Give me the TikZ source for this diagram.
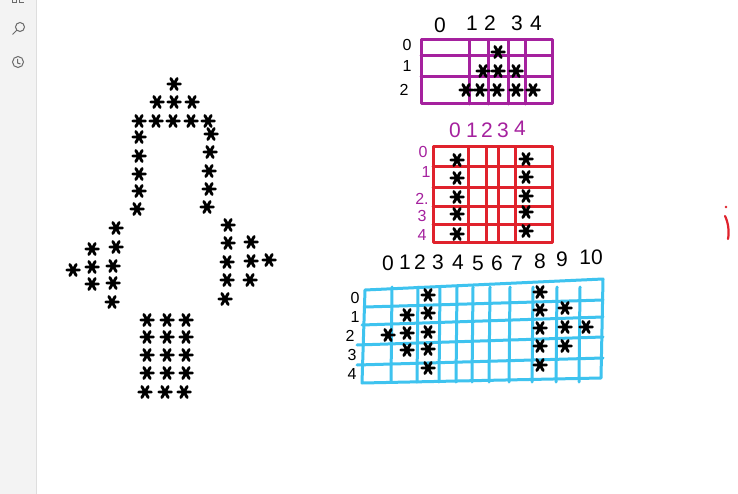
\documentclass[tikz,border=0pt]{standalone}
\usepackage{fontspec}
\setmainfont{Liberation Sans}
\definecolor{sidebar}{HTML}{F3F3F3}
\definecolor{sideline}{HTML}{DEDEDE}
\definecolor{iconc}{HTML}{6A6A6A}
\definecolor{pgrid}{HTML}{A5219E}
\definecolor{rgrid}{HTML}{E0222C}
\definecolor{bgrid}{HTML}{3EC3EF}
\tikzset{
  ast/.pic={\draw[line width=2.9pt,line cap=round,black] (-6.3,0)--(6.3,0) (-3.2,-5.5)--(3.2,5.5) (3.2,-5.5)--(-3.2,5.5);},
  gline/.style={line width=3pt,line cap=round,line join=round},
  lab/.style={font=\fontsize{21}{21}\selectfont,inner sep=0pt},
  rlab/.style={font=\fontsize{16}{16}\selectfont,inner sep=0pt},
}
\begin{document}
\begin{tikzpicture}[x=1pt,y=-1pt]
\useasboundingbox (0,0) rectangle (738,494);
\fill[white] (0,0) rectangle (738,494);
% sidebar
\fill[sidebar] (0,0) rectangle (36,494);
\draw[sideline,line width=1pt] (36,0) -- (36,494);
\draw[iconc,line width=1pt] (12,0) -- (12,2.5) -- (16,2.5) -- (16,0) (19,0) -- (19,2.5) -- (24,2.5);
\draw[iconc,line width=1pt] (20,27) circle (4.5) (16.8,30.2) -- (12.5,34.5);
\draw[iconc,line width=1pt] (18,62) circle (5.5) (17.5,59) -- (17.5,63) -- (20.5,64);
% left figure (arrow/rocket of asterisks)
\foreach \p in {(174,84),(157,102),(174,102),(192,102),
  (139,121),(156,121),(173,121),(191,121),(208,121),
  (139,137),(139,156),(139,174),(139,191),(137,209),
  (211,134),(210,152),(209,171),(209,189),(207,207),
  (116,228),(92,249),(116,247),(73,270),(92,267),(113,266),(92,284),(113,283),(112,302),
  (228,225),(228,243),(251,242),(227,262),(251,261),(269,260),(227,280),(250,280),(225,299),
  (147,320),(167,320),(186,320),(147,337),(167,337),(186,337),
  (147,355),(167,355),(186,355),(147,373),(167,373),(186,373),
  (145,392),(165,392),(184,392)}
  \pic at \p {ast};
% purple grid
\draw[pgrid,gline] (421,40) rectangle (552,104);
\draw[pgrid,gline] (421,56) -- (552,56) (421,77) -- (552,77);
\foreach \x in {469,488,508,525} \draw[pgrid,gline] (\x,40) -- (\x,104);
\node[lab] (pc0) at (440,25) {0};
\node[lab] (pc1) at (472,23) {1};
\node[lab] (pc2) at (490,23) {2};
\node[lab] (pc3) at (517,23) {3};
\node[lab] (pc4) at (536,23) {4};
\node[rlab] (pr0) at (407,45) {0};
\node[rlab] (pr1) at (407,66) {1};
\node[rlab] (pr2) at (404,90) {2};
\foreach \p in {(498,52),(483,71),(498,71),(516,71),(466,90),(480,90),(497,90),(516,90),(533,90)}
  \pic at \p {ast};
% red grid
\draw[rgrid,gline] (433,147) rectangle (552,242);
\foreach \y in {167,188,207,225} \draw[rgrid,gline] (433,\y) -- (552,\y);
\foreach \x in {468,486,498,515} \draw[rgrid,gline] (\x,147) -- (\x,242);
\node[lab,text=pgrid] (rc0) at (455,130) {0};
\node[lab,text=pgrid] (rc1) at (472,130) {1};
\node[lab,text=pgrid] (rc2) at (487,130) {2};
\node[lab,text=pgrid] (rc3) at (503,130) {3};
\node[lab,text=pgrid] (rc4) at (520,128) {4};
\node[rlab,text=pgrid] (rr0) at (423,152) {0};
\node[rlab,text=pgrid] (rr1) at (426,172) {1};
\node[rlab,text=pgrid] (rr2) at (422,199) {2.};
\node[rlab,text=pgrid] (rr3) at (422,216) {3};
\node[rlab,text=pgrid] (rr4) at (422,235) {4};
\foreach \p in {(457,160),(457,178),(457,197),(457,214),(457,234),
  (526,159),(526,177),(526,196),(526,212),(526,231)}
  \pic at \p {ast};
% blue grid
\draw[bgrid,gline] (365,290) -- (603,279) -- (601,378) -- (362,383) -- cycle;
\draw[bgrid,gline] (365,307) -- (603,300) (362,325) -- (603,317) (357,345) -- (603,337) (357,365) -- (603,358);
\foreach \x in {392,418,440,457,473,490,510,533,557,580}
  \draw[bgrid,gline] (\x,287) -- (\x-1,382);
\node[lab] (bc0) at (388,263) {0};
\node[lab] (bc1) at (405,262) {1};
\node[lab] (bc2) at (420,262) {2};
\node[lab] (bc3) at (438,262) {3};
\node[lab] (bc4) at (458,262) {4};
\node[lab] (bc5) at (478,263) {5};
\node[lab] (bc6) at (497,263) {6};
\node[lab] (bc7) at (517,263) {7};
\node[lab] (bc8) at (540,261) {8};
\node[lab] (bc9) at (562,259) {9};
\node[lab] (bc10) at (591,257) {10};
\node[rlab] (br0) at (355,298) {0};
\node[rlab] (br1) at (355,317) {1};
\node[rlab] (br2) at (350,336) {2};
\node[rlab] (br3) at (352,355) {3};
\node[rlab] (br4) at (352,374) {4};
\foreach \p in {(428,295),(428,313),(428,332),(428,349),(428,368),
  (407,315),(407,333),(407,350),(388,335),
  (540,292),(540,310),(540,328),(540,346),(540,365),
  (565,308),(565,327),(565,346),(586,327)}
  \pic at \p {ast};
% red mark at right edge
\fill[rgrid] (726,207) circle (1.3);
\draw[rgrid,line width=2.2pt,line cap=round] (725,216) .. controls (728,222) and (729.5,231) .. (728,239);
\end{tikzpicture}
\end{document}
